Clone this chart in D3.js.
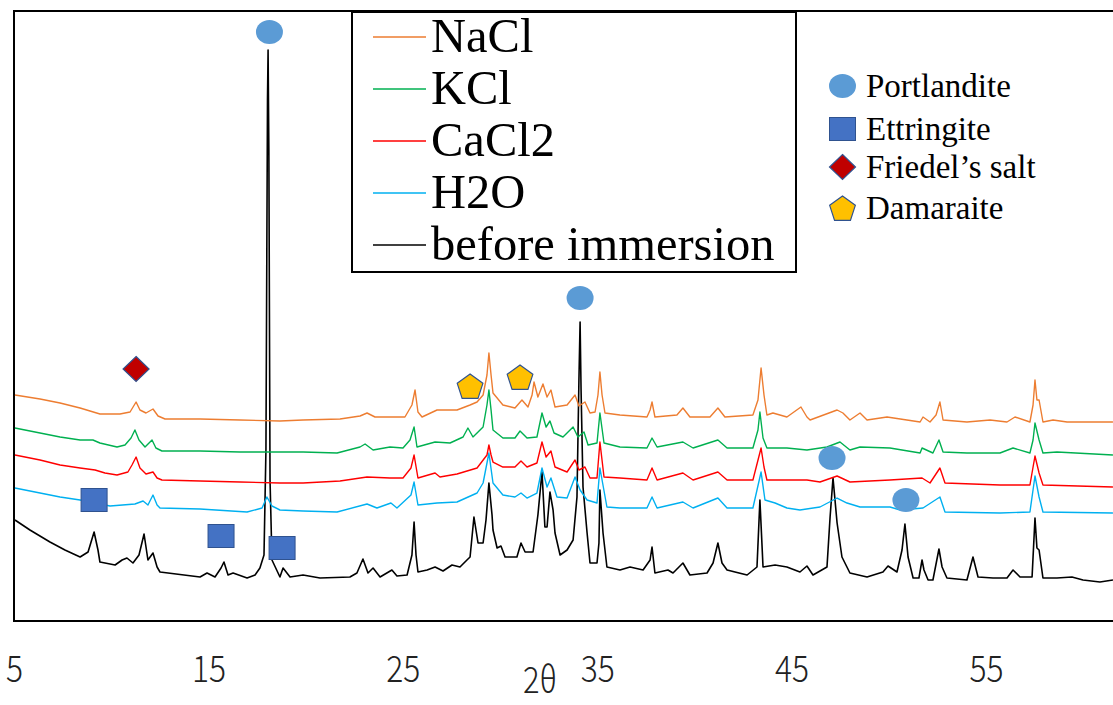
<!DOCTYPE html>
<html><head><meta charset="utf-8">
<script src="https://cdn.jsdelivr.net/npm/d3@7"></script>
<style>body{margin:0;background:#fff;} svg{display:block;}</style>
</head><body>
<svg id="chart" width="1113" height="705"></svg>
<script>
// ---------------- data ----------------
const xTicks = [5, 15, 25, 35, 45, 55];
const xTitle = "2θ";
const seriesNames = ["NaCl", "KCl", "CaCl2", "H2O", "before immersion"];

// [2θ (deg), intensity (a.u., stacked as plotted)]
const nacl = [[5.05,226],[6.34,222],[7.37,218],[8.40,213],[9.42,207],[10.45,207],[10.97,209],[11.28,219],[11.48,211],[11.79,208],[12.15,212],[12.41,205],[12.77,202],[14.57,202],[16.63,201],[18.68,200],[19.87,201],[21.77,202],[22.80,205],[23.16,208],[23.57,204],[24.34,204],[25.11,204],[25.47,216],[25.63,231],[25.78,209],[25.99,204],[26.76,211],[27.79,211],[28.46,216],[28.82,219],[29.13,226],[29.33,246],[29.43,268],[29.54,246],[29.64,228],[30.15,216],[30.77,213],[31.13,221],[31.44,214],[31.65,226],[31.75,239],[31.95,224],[32.21,237],[32.42,224],[32.62,231],[32.83,214],[33.45,216],[33.86,226],[34.06,215],[34.37,219],[34.63,208],[34.89,209],[35.04,226],[35.14,249],[35.25,226],[35.40,208],[36.17,206],[37.56,204],[37.72,211],[37.82,219],[37.97,204],[39.10,206],[39.41,213],[39.77,204],[40.80,204],[41.21,213],[41.57,204],[43.01,206],[43.27,221],[43.43,253],[43.58,226],[43.73,206],[44.04,208],[44.76,204],[45.48,214],[45.79,204],[45.95,201],[47.34,211],[47.64,208],[48.00,201],[48.52,208],[48.88,201],[49.91,204],[51.61,199],[51.76,204],[52.12,199],[52.43,206],[52.63,219],[52.79,201],[54.02,199],[55.21,201],[56.08,199],[56.49,204],[57.26,199],[57.42,216],[57.52,241],[57.62,221],[57.73,221],[57.93,199],[58.45,201],[59.17,199],[61.53,199]];

const kcl = [[5.05,193],[6.34,188],[7.37,184],[8.40,181],[9.06,181],[9.42,178],[10.30,174],[10.71,176],[11.02,183],[11.22,191],[11.43,181],[11.74,174],[12.10,181],[12.30,173],[12.61,170],[14.57,170],[16.63,169],[18.68,169],[19.87,169],[21.62,168],[22.80,174],[23.06,177],[23.47,171],[24.34,174],[25.01,173],[25.37,181],[25.58,194],[25.73,174],[26.66,179],[27.43,178],[28.10,184],[28.35,193],[28.61,184],[29.13,194],[29.33,216],[29.43,231],[29.54,211],[29.64,191],[30.15,183],[30.77,183],[31.03,190],[31.39,183],[31.90,184],[32.16,208],[32.37,194],[32.57,200],[32.78,188],[33.24,184],[33.76,194],[34.01,184],[34.32,189],[34.53,176],[34.99,178],[35.14,208],[35.35,178],[36.17,174],[37.56,173],[37.82,183],[38.08,174],[39.41,179],[39.93,173],[41.21,181],[41.68,173],[43.01,173],[43.27,191],[43.37,209],[43.53,183],[43.73,173],[44.76,173],[45.79,171],[46.82,174],[47.49,179],[48.00,171],[48.52,174],[50.06,173],[51.61,168],[51.71,173],[52.27,168],[52.58,181],[52.79,169],[54.02,168],[55.72,168],[56.39,173],[57.26,168],[57.42,181],[57.52,198],[57.73,181],[57.93,168],[58.65,169],[61.53,166]];

const cacl2 = [[5.05,166],[6.34,161],[7.37,156],[8.40,153],[9.17,151],[9.68,148],[10.30,146],[10.86,149],[11.07,156],[11.28,164],[11.48,153],[11.79,147],[12.15,149],[12.36,143],[12.61,141],[14.57,140],[16.63,139],[18.68,138],[19.87,138],[21.77,140],[23.16,144],[24.34,143],[25.01,143],[25.42,153],[25.58,166],[25.78,143],[26.66,148],[26.91,144],[27.79,147],[28.82,153],[29.33,166],[29.43,176],[29.54,166],[29.64,159],[30.15,154],[30.77,154],[31.08,160],[31.39,154],[31.90,158],[32.16,179],[32.37,164],[32.62,170],[32.83,154],[33.45,149],[33.86,161],[34.06,151],[34.37,154],[34.63,143],[34.99,143],[35.14,179],[35.35,144],[36.17,143],[37.56,141],[37.82,153],[38.08,141],[39.41,148],[39.93,141],[41.21,149],[41.68,141],[43.01,141],[43.43,173],[43.58,154],[43.73,141],[45.79,141],[46.46,139],[47.34,145],[48.00,139],[50.06,141],[51.71,143],[52.12,138],[52.63,153],[52.89,138],[55.72,136],[57.26,136],[57.52,165],[57.73,148],[57.93,136],[61.53,134]];

const h2o = [[5.05,133],[6.34,128],[7.37,124],[8.40,121],[9.94,115],[11.22,117],[11.64,120],[11.89,116],[12.15,126],[12.36,116],[12.51,113],[14.57,112],[16.99,109],[17.76,113],[18.01,124],[18.27,115],[18.68,111],[19.87,110],[21.62,109],[23.16,117],[23.67,113],[24.39,118],[24.70,113],[25.42,126],[25.58,139],[25.78,116],[26.76,118],[27.79,119],[28.82,128],[29.13,138],[29.43,168],[29.64,138],[30.15,126],[30.77,124],[31.08,128],[31.39,123],[31.90,128],[32.16,153],[32.42,134],[32.62,143],[32.93,124],[33.45,123],[33.86,144],[34.12,131],[34.48,121],[34.99,118],[35.14,153],[35.50,114],[36.17,113],[37.56,113],[37.82,124],[38.08,113],[39.41,119],[39.93,113],[41.21,123],[41.68,113],[43.01,113],[43.43,149],[43.63,121],[44.15,118],[44.76,113],[45.43,111],[46.46,114],[47.34,123],[47.85,118],[48.52,114],[50.06,114],[50.58,111],[51.76,113],[52.63,124],[52.89,109],[55.72,108],[57.26,109],[57.52,145],[57.73,124],[57.93,109],[61.53,108]];

const before = [[5.05,101],[5.82,91],[6.85,79],[7.62,71],[8.40,64],[8.81,69],[9.12,89],[9.32,71],[9.42,59],[10.20,56],[10.56,61],[10.81,63],[11.12,58],[11.43,66],[11.69,87],[11.89,61],[12.15,68],[12.36,54],[12.51,49],[14.57,44],[14.93,48],[15.34,44],[15.65,53],[15.80,59],[16.01,46],[16.27,48],[16.99,43],[17.40,46],[17.65,53],[17.86,66],[17.96,171],[18.04,521],[18.07,571],[18.11,471],[18.17,141],[18.27,61],[18.68,44],[18.84,53],[19.20,44],[19.87,46],[20.74,43],[22.28,44],[22.64,48],[22.95,62],[23.21,48],[23.47,53],[23.83,44],[24.44,51],[24.70,45],[25.22,46],[25.47,66],[25.58,99],[25.68,66],[25.78,49],[26.25,51],[26.66,54],[27.07,50],[27.53,56],[27.94,54],[28.30,61],[28.46,64],[28.66,104],[28.87,78],[29.13,78],[29.28,101],[29.43,138],[29.59,106],[29.64,91],[29.85,73],[30.05,75],[30.26,64],[30.87,64],[31.08,78],[31.29,69],[31.70,69],[31.95,106],[32.16,149],[32.31,94],[32.42,94],[32.57,129],[32.73,111],[32.83,88],[33.09,66],[33.45,71],[33.76,81],[33.96,124],[34.06,241],[34.12,299],[34.17,231],[34.27,134],[34.48,88],[34.63,58],[34.99,58],[35.09,78],[35.14,131],[35.30,88],[35.50,54],[36.17,51],[36.69,54],[37.36,51],[37.72,61],[37.82,74],[37.97,48],[38.64,51],[38.90,48],[39.41,58],[39.77,46],[40.65,48],[40.96,58],[41.21,78],[41.42,58],[41.68,51],[42.71,46],[43.22,54],[43.37,121],[43.53,54],[44.15,56],[44.76,54],[45.43,49],[45.79,55],[46.10,46],[46.82,54],[46.98,104],[47.13,143],[47.34,98],[47.59,64],[48.00,48],[48.88,44],[49.70,49],[49.96,55],[50.42,49],[50.68,71],[50.83,97],[50.99,64],[51.25,43],[51.55,43],[51.71,61],[51.81,51],[52.02,41],[52.27,41],[52.58,72],[52.74,54],[52.99,43],[54.02,41],[54.33,64],[54.59,44],[55.36,43],[56.08,43],[56.39,51],[56.75,44],[57.37,44],[57.52,103],[57.62,73],[57.73,71],[57.93,43],[58.65,43],[59.42,44],[59.99,41],[60.86,39],[61.53,41]];

const phaseNames = ["Portlandite", "Ettringite", "Friedel’s salt", "Damaraite"];
const portlandite = [[18.14,589],[34.12,323],[47.08,163],[50.88,121]];
const ettringite = [[9.12,121],[15.65,85],[18.79,73]];
const friedel = [[11.28,252]];
const damaraite = [[28.46,235],[31.03,244]];

// ---------------- styles ----------------
const seriesColors = ["#ED7D31", "#00B050", "#FF0000", "#00B0F0", "#000000"];
const seriesWidths = [1.4, 1.4, 1.4, 1.4, 1.6];
const seriesData = [nacl, kcl, cacl2, h2o, before];

const svg = d3.select("#chart");
const W = 1113, H = 705;
const plot = {left: 14, top: 11, bottom: 621};
const pxPerDeg = 19.44;

const x = d3.scaleLinear().domain([5, 65]).range([plot.left, plot.left + 60 * pxPerDeg]);
const y = d3.scaleLinear().domain([0, 610]).range([plot.bottom, plot.top]);

svg.append("rect").attr("width", W).attr("height", H).attr("fill", "#fff");

svg.append("defs").append("clipPath").attr("id", "clip")
  .append("rect").attr("x", plot.left).attr("y", plot.top)
  .attr("width", W - plot.left).attr("height", plot.bottom - plot.top);

// plot frame
svg.append("rect").attr("x", plot.left).attr("y", plot.top)
  .attr("width", 1300).attr("height", plot.bottom - plot.top)
  .attr("fill", "none").attr("stroke", "#000").attr("stroke-width", 2);

// series lines (black first, so coloured traces sit above)
const line = d3.line().x(d => x(d[0])).y(d => y(d[1]));
const gLines = svg.append("g").attr("clip-path", "url(#clip)");
[4, 3, 2, 1, 0].forEach(i => {
  gLines.append("path").datum(seriesData[i])
    .attr("d", line).attr("fill", "none")
    .attr("stroke", seriesColors[i]).attr("stroke-width", seriesWidths[i])
    .attr("stroke-linejoin", "round");
});

// x axis
const axisFont = "'Noto Sans CJK JP', 'Noto Sans', sans-serif";
const xAxis = d3.axisBottom(x).tickValues(xTicks).tickSize(0).tickFormat(d3.format("d"));
const gx = svg.append("g").attr("transform", `translate(0,${plot.bottom})`).call(xAxis);
gx.select(".domain").remove();
gx.selectAll("text")
  .attr("y", 0).attr("dy", 0)
  .attr("transform", "translate(0,61) scale(0.86,1)")
  .attr("fill", "#222")
  .style("font-family", axisFont)
  .style("font-weight", 300)
  .style("font-size", "37px");

svg.append("text")
  .attr("transform", "translate(540,693) scale(0.86,1)")
  .attr("text-anchor", "middle")
  .style("font-family", axisFont).style("font-weight", 300)
  .style("font-size", "36px").attr("fill", "#222").text(xTitle);

// phase markers
const markerStroke = "#2F528F";
function pentagon(r) {
  return d3.range(5).map(k => {
    const a = -Math.PI / 2 + k * 2 * Math.PI / 5;
    return [r * Math.cos(a), r * Math.sin(a)];
  });
}
const pent = "M" + pentagon(13.5).map(p => p.join(",")).join("L") + "Z";
function drawMarker(g, type, cx, cy) {
  if (type === 0) {
    g.append("ellipse").attr("cx", cx).attr("cy", cy).attr("rx", 13.5).attr("ry", 12)
      .attr("fill", "#5B9BD5");
  } else if (type === 1) {
    g.append("rect").attr("x", cx - 13).attr("y", cy - 11.5).attr("width", 26).attr("height", 23)
      .attr("fill", "#4472C4").attr("stroke", markerStroke).attr("stroke-width", 1);
  } else if (type === 2) {
    g.append("path").attr("d", `M${cx},${cy - 12.5}L${cx + 13},${cy}L${cx},${cy + 12.5}L${cx - 13},${cy}Z`)
      .attr("fill", "#C00000").attr("stroke", markerStroke).attr("stroke-width", 1.2);
  } else {
    g.append("path").attr("d", pent).attr("transform", `translate(${cx},${cy + 1.5})`)
      .attr("fill", "#FFC000").attr("stroke", markerStroke).attr("stroke-width", 1.2);
  }
}
const gMarks = svg.append("g");
[portlandite, ettringite, friedel, damaraite].forEach((arr, t) => {
  arr.forEach(d => drawMarker(gMarks, t, x(d[0]), y(d[1])));
});

// series legend
const serif = "'Liberation Serif', 'Times New Roman', serif";
const gLeg = svg.append("g");
gLeg.append("rect").attr("x", 352).attr("y", 12).attr("width", 444).attr("height", 260)
  .attr("fill", "#fff").attr("stroke", "#000").attr("stroke-width", 2);
seriesNames.forEach((n, i) => {
  const by = 52 + i * 52;
  gLeg.append("line").attr("x1", 373).attr("x2", 426).attr("y1", by - 15).attr("y2", by - 15)
    .attr("stroke", seriesColors[i]).attr("stroke-width", 1.4);
  gLeg.append("text").attr("x", 431).attr("y", by)
    .style("font-family", serif)
    .style("font-size", "48.5px").attr("fill", "#000").text(n);
});

// phase legend
const gPh = svg.append("g");
const phaseY = [86, 129, 167, 208];
phaseNames.forEach((n, i) => {
  drawMarker(gPh, i, 842.5, phaseY[i]);
  gPh.append("text").attr("x", 866).attr("y", phaseY[i] + 11)
    .style("font-family", serif)
    .style("font-size", "33px").attr("fill", "#000").text(n);
});
</script>
</body></html>
